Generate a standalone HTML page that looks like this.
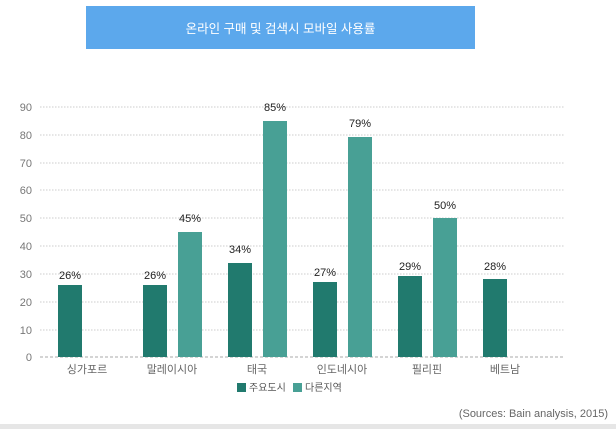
<!DOCTYPE html>
<html><head><meta charset="utf-8"><style>
body{margin:0;background:#fff;width:616px;height:429px;overflow:hidden;font-family:"Liberation Sans","Noto Sans CJK KR",sans-serif}
</style></head><body>
<svg width="616" height="429" xmlns="http://www.w3.org/2000/svg" style="position:absolute;left:0;top:0;font-family:'Liberation Sans','Noto Sans CJK KR',sans-serif">
<rect x="86" y="6" width="389" height="43" fill="#5ca8ec"/>
<text x="280.5" y="33" text-anchor="middle" fill="#fff" font-size="12.5">온라인 구매 및 검색시 모바일 사용률</text>
<g stroke="#ccc" stroke-dasharray="1.5,1.5" stroke-width="1">
<line x1="40" x2="565" y1="107" y2="107"/><line x1="40" x2="565" y1="135" y2="135"/>
<line x1="40" x2="565" y1="163" y2="163"/><line x1="40" x2="565" y1="190" y2="190"/>
<line x1="40" x2="565" y1="218" y2="218"/><line x1="40" x2="565" y1="246" y2="246"/>
<line x1="40" x2="565" y1="274" y2="274"/><line x1="40" x2="565" y1="302" y2="302"/>
<line x1="40" x2="565" y1="330" y2="330"/>
</g>
<line x1="40" x2="565" y1="357" y2="357" stroke="#aaa" stroke-dasharray="3,2"/>
<g fill="#777" font-size="11" text-anchor="end">
<text x="32" y="111">90</text><text x="32" y="139">80</text><text x="32" y="167">70</text>
<text x="32" y="194">60</text><text x="32" y="222">50</text><text x="32" y="250">40</text>
<text x="32" y="278">30</text><text x="32" y="306">20</text><text x="32" y="334">10</text>
<text x="32" y="361">0</text>
</g>
<g fill="#217a6e">
<rect x="58" y="285" width="24" height="72"/>
<rect x="143" y="285" width="24" height="72"/>
<rect x="228" y="263" width="24" height="94"/>
<rect x="313" y="282" width="24" height="75"/>
<rect x="398" y="276" width="24" height="81"/>
<rect x="483" y="279" width="24" height="78"/>
</g>
<g fill="#48a095">
<rect x="178" y="232" width="24" height="125"/>
<rect x="263" y="121" width="24" height="236"/>
<rect x="348" y="137" width="24" height="220"/>
<rect x="433" y="218" width="24" height="139"/>
</g>
<g fill="#222" font-size="11" text-anchor="middle">
<text x="70" y="279">26%</text><text x="155" y="279">26%</text><text x="190" y="222">45%</text>
<text x="240" y="253">34%</text><text x="275" y="111">85%</text>
<text x="325" y="276">27%</text><text x="360" y="127">79%</text>
<text x="410" y="270">29%</text><text x="445" y="209">50%</text>
<text x="495" y="270">28%</text>
</g>
<g fill="#666" font-size="11" text-anchor="middle">
<text x="87" y="373">싱가포르</text><text x="172" y="373">말레이시아</text><text x="257" y="373">태국</text>
<text x="342" y="373">인도네시아</text><text x="427" y="373">필리핀</text><text x="505" y="373">베트남</text>
</g>
<rect x="237" y="383" width="9" height="9" fill="#217a6e"/>
<text x="249" y="391" font-size="10" fill="#555">주요도시</text>
<rect x="293" y="383" width="9" height="9" fill="#48a095"/>
<text x="305" y="391" font-size="10" fill="#555">다른지역</text>
<text x="608" y="417" font-size="11" fill="#666" text-anchor="end">(Sources: Bain analysis, 2015)</text>
<rect x="0" y="424" width="616" height="5" fill="#e6e6e6"/>
</svg>
</body></html>
